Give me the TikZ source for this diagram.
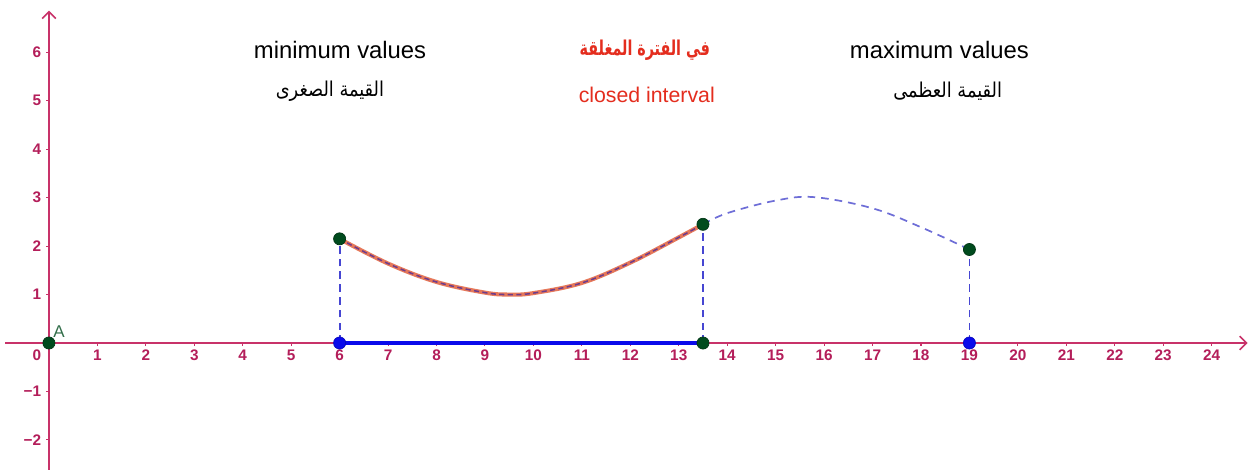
\documentclass[tikz,border=0pt]{standalone}
\usepackage{fontspec}
\setmainfont{Liberation Sans}
\newfontfamily\arabicfont[Script=Arabic]{DejaVu Sans}
\TeXXeTstate=1
\usetikzlibrary{
    arrows.meta,
    positioning,
    calc
}
\definecolor{axiscol}{RGB}{200,50,105}
\definecolor{ticklab}{RGB}{180,30,90}
\definecolor{ptgreen}{RGB}{0,75,30}
\definecolor{ptblue}{RGB}{10,10,235}
\definecolor{vdash}{RGB}{70,70,210}
\definecolor{cdash}{RGB}{110,110,215}
\definecolor{curveorange}{RGB}{230,120,90}
\definecolor{curvepurple}{RGB}{110,60,140}
\definecolor{titlered}{RGB}{228,45,30}
\tikzset{
    % --- Axis line ---
    axis/.style = {
        draw=axiscol, line width=0.9pt,
        -{Straight Barb[length=4pt,width=8pt]}
    },
    % --- Tick numbers ---
    ticknum/.style = {
        font=\fontsize{9}{10}\selectfont\bfseries,
        text=ticklab, inner sep=1pt
    },
    % --- Green point ---
    gdot/.style = {
        circle, fill=ptgreen, draw=ptgreen!70!black,
        minimum size=2.5mm, inner sep=0pt
    },
    % --- Blue point on the axis ---
    bdot/.style = {
        gdot, fill=ptblue, draw=ptblue!80!black
    },
    % --- Vertical projection ---
    proj/.style = {
        draw=vdash, line width=1.1pt,
        dash pattern=on 4.5pt off 3pt
    },
    % --- Curve outside the interval ---
    outer curve/.style = {
        draw=cdash, line width=1pt,
        dash pattern=on 4.5pt off 3.5pt
    },
    % --- Heading text ---
    heading/.style = {
        font=\fontsize{14}{16}\selectfont, inner sep=1pt
    },
    % --- Arabic heading ---
    arheading/.style = {
        font=\arabicfont\fontsize{12}{14}\selectfont, inner sep=1pt,
        xscale=0.87, transform shape
    }
}

\begin{document}
\begin{tikzpicture}

\useasboundingbox[fill=white] (-1.01,-2.62) rectangle (24.75,7.08);

% ---------------------------------------------------------
% Axes
% ---------------------------------------------------------
\coordinate (xl) at (-0.9,0);
\coordinate (xr) at (24.74,0);
\coordinate (yb) at (0,-2.62);
\coordinate (yt) at (0,6.86);
\draw[axis] (xl) -- (xr);
\draw[axis] (yb) -- (yt);

\foreach \i in {1,...,24} {
    \draw[axiscol, line width=0.6pt] (\i,0) -- (\i,-0.07);
    \node[ticknum] (xt\i) at (\i,-0.25) {\i};
}
\foreach \j in {-2,-1,1,2,3,4,5,6} {
    \draw[axiscol, line width=0.6pt] (0,\j) -- (-0.07,\j);
}
\foreach \j in {1,...,6} {
    \node[ticknum, anchor=east] (yt\j) at (-0.12,\j) {\j};
}
\node[ticknum, anchor=east] (ym1) at (-0.12,-1) {−1};
\node[ticknum, anchor=east] (ym2) at (-0.12,-2) {−2};
\node[ticknum, anchor=east] (x0) at (-0.12,-0.25) {0};

% ---------------------------------------------------------
% Points
% ---------------------------------------------------------
\coordinate (A) at (0,0);
\coordinate (P1) at (6,2.15);
\coordinate (Q1) at (6,0);
\coordinate (P2) at (13.5,2.45);
\coordinate (Q2) at (13.5,0);
\coordinate (P3) at (19,1.93);
\coordinate (Q3) at (19,0);

% projections
\draw[proj] (Q1) -- (P1);
\draw[proj] (Q2) -- (P2);
\draw[proj] (Q3) -- (P3);

% closed interval on the axis
\draw[ptblue, line width=2pt] (Q1) -- (Q2);

% curve outside the interval
\draw[outer curve] plot[smooth, tension=0.6] coordinates {
    (P2) (14,2.68) (15,2.94) (15.8,3.01) (17,2.78) (18,2.39) (P3)};

% curve on the interval
\draw[curveorange, line width=2.4pt] plot[smooth, tension=0.6] coordinates {
    (P1) (7,1.64) (8,1.26) (9,1.04) (9.5,1.0) (10,1.03) (11,1.24) (12,1.66) (13,2.18) (P2)};
\draw[curvepurple, line width=0.9pt, dash pattern=on 3pt off 2pt] plot[smooth, tension=0.6] coordinates {
    (P1) (7,1.64) (8,1.26) (9,1.04) (9.5,1.0) (10,1.03) (11,1.24) (12,1.66) (13,2.18) (P2)};

\node[gdot] (dA) at (A) {};
\node[gdot] (dP1) at (P1) {};
\node[bdot] (dQ1) at (Q1) {};
\node[gdot] (dP2) at (P2) {};
\node[gdot] (dQ2) at (Q2) {};
\node[gdot] (dP3) at (P3) {};
\node[bdot] (dQ3) at (Q3) {};
\node[font=\fontsize{10}{12}\selectfont, text=ptgreen!80!white, anchor=south west, inner sep=1pt]
    (lA) at (0.05,0.07) {A};

% ---------------------------------------------------------
% Headings
% ---------------------------------------------------------
\node[heading] (minval) at (6.01,6.05) {minimum values};
\node[arheading] (minar) at (5.8,5.2) {\beginR القيمة الصغرى\endR};
\node[heading, text=titlered, font=\arabicfont\bfseries\fontsize{12}{14}\selectfont,
    xscale=0.7, transform shape] (intar) at (12.3,6.05) {\beginR في الفترة المغلقة\endR};
\node[heading, text=titlered, font=\fontsize{12.5}{15}\selectfont] (intval) at (12.34,5.12) {closed interval};
\node[heading] (maxval) at (18.38,6.05) {maximum values};
\node[arheading] (maxar) at (18.55,5.2) {\beginR القيمة العظمى\endR};

\end{tikzpicture}
\end{document}
